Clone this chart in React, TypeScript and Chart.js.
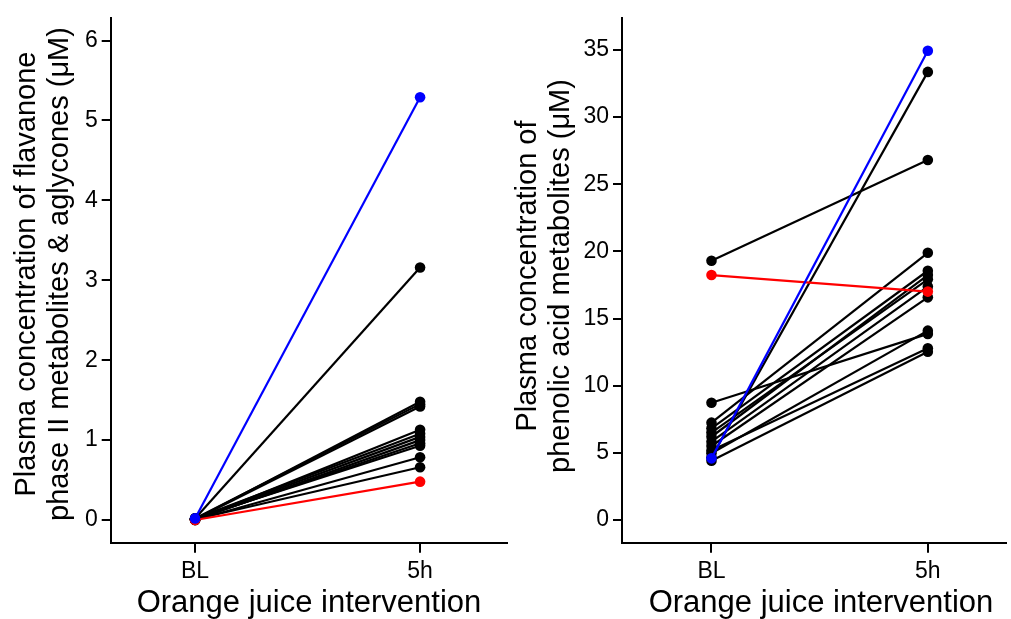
import React, { useEffect, useRef } from 'react';
import { Chart, registerables } from 'chart.js';
Chart.register(...registerables);

const timeLabels = ['BL', '5h'];

// Left panel: flavanone phase II metabolites & aglycones (µM)
const flavBL = [0.02, 0.01, 0.02, 0.01, 0.0, 0.02, 0.01, 0.0, 0.01, 0.02, 0.0, 0.01];
const flav5h = [3.16, 1.48, 1.45, 1.42, 1.13, 1.08, 1.04, 1.0, 0.96, 0.93, 0.785, 0.66];
const flavBlue = [0.02, 5.29];
const flavRed = [0.0, 0.48];
const flavTicks = [0, 1, 2, 3, 4, 5, 6];

// Right panel: phenolic acid metabolites (µM)
const phenBL = [19.31, 8.73, 4.67, 7.25, 6.83, 6.51, 6.2, 5.83, 5.51, 4.97, 4.42, 5.17];
const phen5h = [26.81, 13.86, 33.37, 19.9, 18.56, 17.92, 18.24, 17.38, 16.58, 14.1, 12.53, 12.79];
const phenBlue = [4.59, 34.94];
const phenRed = [18.24, 17.01];
const phenTicks = [0, 5, 10, 15, 20, 25, 30, 35];

const xTitle = 'Orange juice intervention';
const flavTitle = ['Plasma concentration of flavanone', 'phase II metabolites & aglycones (\u03bcM)'];
const phenTitle = ['Plasma concentration of', 'phenolic acid metabolites (\u03bcM)'];

const FONT = '"Liberation Sans", Arial, sans-serif';

function makeDatasets(bl: number[], h5: number[], blue: number[], red: number[]) {
  const mk = (a: number, b: number, color: string) => ({
    data: [{ x: 0, y: a }, { x: 1, y: b }],
    borderColor: color,
    backgroundColor: color,
    pointBackgroundColor: color,
    pointBorderColor: color,
    pointBorderWidth: 0,
    pointRadius: 5.3,
    borderWidth: 2.2,
    showLine: true,
    fill: false,
    tension: 0,
  });
  const ds: any[] = [];
  ds.push(mk(blue[0], blue[1], '#0000ff'));
  ds.push(mk(red[0], red[1], '#ff0000'));
  for (let i = 0; i < bl.length; i++) ds.push(mk(bl[i], h5[i], '#000000'));
  return ds;
}

interface PanelCfg {
  width: number;
  bl: number[];
  h5: number[];
  blue: number[];
  red: number[];
  ticks: number[];
  ymin: number;
  ymax: number;
  xmin: number;
  xmax: number;
  yAxisWidth: number;
  padRight: number;
  yTitle: string[];
  yTitleX: number[];
  yTitleCenter: number;
  xTitleCenter: number;
}

function Panel({ cfg }: { cfg: PanelCfg }) {
  const ref = useRef<HTMLCanvasElement>(null);
  useEffect(() => {
    if (!ref.current) return;
    const titlePlugin = {
      id: 'customTitles',
      afterDraw(chart: any) {
        const ctx = chart.ctx;
        ctx.save();
        ctx.fillStyle = '#000';
        ctx.textBaseline = 'alphabetic';
        ctx.textAlign = 'center';
        ctx.font = `31px ${FONT}`;
        ctx.fillText(xTitle, cfg.xTitleCenter, 612);
        ctx.font = `29px ${FONT}`;
        for (let i = 0; i < cfg.yTitle.length; i++) {
          ctx.save();
          ctx.translate(cfg.yTitleX[i], cfg.yTitleCenter);
          ctx.rotate(-Math.PI / 2);
          ctx.fillText(cfg.yTitle[i], 0, 0);
          ctx.restore();
        }
        ctx.restore();
      },
    };
    const chart = new Chart(ref.current, {
      type: 'scatter',
      data: { datasets: makeDatasets(cfg.bl, cfg.h5, cfg.blue, cfg.red) },
      options: {
        animation: false,
        responsive: false,
        events: [],
        layout: { padding: { top: 18.3, right: cfg.padRight, left: 0, bottom: 0 } },
        plugins: { legend: { display: false }, tooltip: { enabled: false }, title: { display: false } },
        scales: {
          x: {
            type: 'linear',
            min: cfg.xmin,
            max: cfg.xmax,
            afterBuildTicks: (s: any) => {
              s.ticks = [{ value: 0 }, { value: 1 }];
            },
            afterFit: (s: any) => {
              s.height = 619 - 542.7;
            },
            ticks: {
              autoSkip: false,
              maxRotation: 0,
              padding: 5,
              color: '#000',
              font: { family: FONT, size: 23 },
              callback: (v: any) => timeLabels[Math.round(v)] ?? '',
            },
            grid: { drawOnChartArea: false, drawTicks: true, tickLength: 10, color: '#000', lineWidth: 2 },
            border: { display: true, color: '#000', width: 2 },
          },
          y: {
            type: 'linear',
            min: cfg.ymin,
            max: cfg.ymax,
            afterBuildTicks: (s: any) => {
              s.ticks = cfg.ticks.map((v) => ({ value: v }));
            },
            afterFit: (s: any) => {
              s.width = cfg.yAxisWidth;
            },
            ticks: {
              autoSkip: false,
              padding: 4,
              color: '#000',
              font: { family: FONT, size: 23 },
              callback: (v: any) => String(v),
            },
            grid: { drawOnChartArea: false, drawTicks: true, tickLength: 9, color: '#000', lineWidth: 2 },
            border: { display: true, color: '#000', width: 2 },
          },
        },
      },
      plugins: [titlePlugin],
    });
    return () => chart.destroy();
  }, [cfg]);
  return <canvas ref={ref} width={cfg.width} height={619} style={{ display: 'block' }} />;
}

const leftCfg: PanelCfg = {
  width: 512,
  bl: flavBL,
  h5: flav5h,
  blue: flavBlue,
  red: flavRed,
  ticks: flavTicks,
  ymin: -0.284,
  ymax: 6.278,
  xmin: -0.375,
  xmax: 1.385,
  yAxisWidth: 110.7,
  padRight: 4,
  yTitle: flavTitle,
  yTitleX: [35, 68],
  yTitleCenter: 274,
  xTitleCenter: 309,
};

const rightCfg: PanelCfg = {
  width: 499,
  bl: phenBL,
  h5: phen5h,
  blue: phenBlue,
  red: phenRed,
  ticks: phenTicks,
  ymin: -1.69,
  ymax: 37.36,
  xmin: -0.4136,
  xmax: 1.36,
  yAxisWidth: 110,
  padRight: 0,
  yTitle: phenTitle,
  yTitleX: [24, 57],
  yTitleCenter: 276,
  xTitleCenter: 309,
};

export default function App() {
  return (
    <div style={{ position: 'absolute', left: 0, top: 0, width: 1011, height: 619, display: 'flex', background: '#fff' }}>
      <Panel cfg={leftCfg} />
      <Panel cfg={rightCfg} />
    </div>
  );
}
